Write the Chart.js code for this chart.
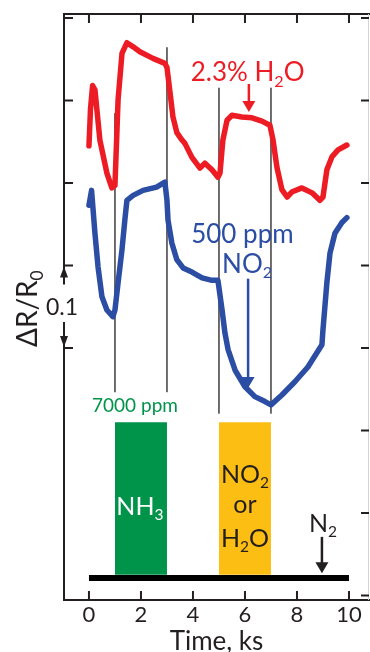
<!DOCTYPE html>
<html>
<head>
<meta charset="utf-8">
<script src="https://cdn.jsdelivr.net/npm/chart.js@4.4.0/dist/chart.umd.min.js"></script>
<style>
  html, body { margin: 0; padding: 0; background: #fff; }
</style>
</head>
<body>
<canvas id="sensorChart" width="370" height="652"></canvas>
<script>
// Axis ticks
const xTicks = [0, 2, 4, 6, 8, 10];
const yTicksLeft = [0.3, 0.4, 0.5, 0.6, 0.7];
const yTicksRight = [0, 0.1, 0.2, 0.3, 0.4, 0.5, 0.6, 0.7];

// Red trace (H2O response), time in ks
const redTime = [0, 0.06, 0.14, 0.23, 0.42, 0.69, 0.88, 1.0, 1.12, 1.27, 1.46, 1.7, 1.96, 2.46, 2.92,
  3.0, 3.12, 3.23, 3.38, 3.58, 3.69, 3.96, 4.27, 4.46, 4.73, 4.96,
  5.04, 5.15, 5.31, 5.5, 5.88, 6.27, 6.65, 6.96, 7.08, 7.23, 7.42, 7.62, 7.8, 8.19, 8.58, 8.88,
  9.0, 9.15, 9.35, 9.58, 9.92];
const redValues = [0.545, 0.590, 0.618, 0.613, 0.552, 0.512, 0.494, 0.497, 0.601, 0.657, 0.670, 0.665, 0.659, 0.651, 0.645,
  0.640, 0.609, 0.580, 0.561, 0.552, 0.548, 0.531, 0.518, 0.524, 0.516, 0.507,
  0.512, 0.552, 0.576, 0.582, 0.580, 0.579, 0.575, 0.570, 0.552, 0.519, 0.492, 0.483, 0.489, 0.494, 0.488, 0.479,
  0.483, 0.516, 0.532, 0.540, 0.546];

// Blue trace (NO2 response)
const blueTime = [0, 0.1, 0.23, 0.35, 0.5, 0.69, 0.92, 1.0, 1.12, 1.27, 1.38, 1.46, 1.7, 2.08, 2.6, 2.92,
  3.0, 3.04, 3.19, 3.38, 3.62, 3.96, 4.35, 4.73, 4.96,
  5.12, 5.23, 5.35, 5.62, 6.0, 6.38, 6.77, 7.0, 7.42, 7.92, 8.42, 8.96,
  9.0, 9.15, 9.27, 9.46, 9.73, 9.92];
const blueValues = [0.473, 0.491, 0.439, 0.398, 0.362, 0.346, 0.338, 0.346, 0.379, 0.419, 0.455, 0.479, 0.485, 0.491, 0.495, 0.501,
  0.479, 0.455, 0.427, 0.407, 0.397, 0.392, 0.385, 0.382, 0.382,
  0.346, 0.318, 0.298, 0.273, 0.253, 0.241, 0.235, 0.231, 0.243, 0.259, 0.277, 0.304,
  0.322, 0.379, 0.415, 0.439, 0.452, 0.458];

// Gas switching markers
const switchTimes = [1, 3, 5, 7];
const switchTop = [0.584, 0.664, 0.615, 0.615];
const switchBottom = [0.247, 0.247, 0.221, 0.221];

// Gas pulses
const nh3Pulse = [1, 3];
const wetPulse = [5, 7];
const pulseTop = 0.210;
const pulseBase = 0.025;
const n2Span = [0, 10];
const n2Level = 0.0212;

const RED = '#ed1c24';
const BLUE = '#2b4da3';
const GREEN = '#00944a';
const YELLOW = '#fdbe14';
const INK = '#231f20';
const FONT = 'Lato, "Open Sans", sans-serif';

Chart.defaults.font.family = FONT;

function pts(xs, ys) {
  return xs.map((x, i) => ({ x: x, y: ys[i] }));
}

// text with "_x" subscripts
function drawRich(ctx, str, cx, baseline, size, color) {
  const parts = [];
  for (let i = 0; i < str.length; i++) {
    if (str[i] === '_') { parts.push([str[i + 1], true]); i++; }
    else parts.push([str[i], false]);
  }
  const subSize = size * 0.62;
  let w = 0;
  parts.forEach(p => {
    ctx.font = (p[1] ? subSize : size) + 'px ' + FONT;
    w += ctx.measureText(p[0]).width;
  });
  let x = cx - w / 2;
  ctx.fillStyle = color;
  ctx.textBaseline = 'alphabetic';
  ctx.textAlign = 'left';
  parts.forEach(p => {
    ctx.font = (p[1] ? subSize : size) + 'px ' + FONT;
    ctx.fillText(p[0], x, baseline + (p[1] ? size * 0.2 : 0));
    x += ctx.measureText(p[0]).width;
  });
}

function arrow(ctx, x, y1, y2, color, lw, headLen, headW) {
  const dir = y2 > y1 ? 1 : -1;
  ctx.strokeStyle = color;
  ctx.fillStyle = color;
  ctx.lineWidth = lw;
  ctx.beginPath();
  ctx.moveTo(x, y1);
  ctx.lineTo(x, y2 - dir * headLen * 0.8);
  ctx.stroke();
  ctx.beginPath();
  ctx.moveTo(x, y2);
  ctx.lineTo(x - headW / 2, y2 - dir * headLen);
  ctx.lineTo(x + headW / 2, y2 - dir * headLen);
  ctx.closePath();
  ctx.fill();
}

// labels placed in data coordinates
const notes = [
  { text: '2.3% H_2O', t: 6.1, v: 0.623, size: 26, color: RED },
  { text: '500 ppm', t: 5.9, v: 0.427, size: 26, color: BLUE },
  { text: 'NO_2', t: 6.08, v: 0.391, size: 26, color: BLUE },
  { text: '7000 ppm', t: 1.77, v: 0.222, size: 19, color: GREEN },
  { text: 'NH_3', t: 1.96, v: 0.0976, size: 25, color: '#fff' },
  { text: 'NO_2', t: 6.0, v: 0.136, size: 25, color: INK },
  { text: 'or', t: 6.0, v: 0.100, size: 25, color: INK },
  { text: 'H_2O', t: 6.0, v: 0.0588, size: 25, color: INK },
  { text: 'N_2', t: 9.0, v: 0.077, size: 25, color: INK }
];
const arrows = [
  { t: 6.15, from: 0.620, to: 0.586, color: RED },
  { t: 6.12, from: 0.384, to: 0.2515, color: BLUE },
  { t: 8.96, from: 0.071, to: 0.027, color: INK }
];

const framePlugin = {
  id: 'frame',
  afterDraw(chart) {
    const ctx = chart.ctx;
    const a = chart.chartArea;
    const xs = chart.scales.x;
    const ys = chart.scales.y;
    ctx.save();
    ctx.strokeStyle = INK;
    ctx.lineWidth = 2;
    ctx.lineCap = 'butt';

    // top and bottom borders
    ctx.beginPath();
    ctx.moveTo(a.left - 1, a.top);
    ctx.lineTo(chart.width, a.top);
    ctx.moveTo(a.left - 1, a.bottom);
    ctx.lineTo(chart.width, a.bottom);
    ctx.stroke();

    // left border, broken by the 0.1 scale bar
    const yHi = ys.getPixelForValue(0.4);
    const yLo = ys.getPixelForValue(0.3);
    ctx.beginPath();
    ctx.moveTo(a.left, a.top);
    ctx.lineTo(a.left, yHi + 19);
    ctx.moveTo(a.left, yLo - 26);
    ctx.lineTo(a.left, a.bottom);
    ctx.stroke();
    arrow(ctx, a.left, yHi + 10, yHi + 1, INK, 2, 11, 8);
    arrow(ctx, a.left, yLo - 10, yLo - 1, INK, 2, 11, 8);

    // right border
    ctx.strokeStyle = '#d4d4d4';
    ctx.lineWidth = 1;
    ctx.beginPath();
    ctx.moveTo(a.right - 0.5, a.top);
    ctx.lineTo(a.right - 0.5, a.bottom);
    ctx.stroke();

    // inward ticks
    ctx.strokeStyle = INK;
    ctx.lineWidth = 2;
    ctx.beginPath();
    xTicks.forEach(v => {
      const px = xs.getPixelForValue(v);
      ctx.moveTo(px, a.top); ctx.lineTo(px, a.top + 9);
      ctx.moveTo(px, a.bottom); ctx.lineTo(px, a.bottom - 9);
    });
    yTicksLeft.forEach(v => {
      const py = ys.getPixelForValue(v);
      ctx.moveTo(a.left, py); ctx.lineTo(a.left + 9, py);
    });
    yTicksRight.forEach(v => {
      const py = ys.getPixelForValue(v);
      ctx.moveTo(a.right, py); ctx.lineTo(a.right - 8, py);
    });
    ctx.stroke();

    // scale bar label and axis title
    drawRich(ctx, '0.1', a.left - 2, (yHi + yLo) / 2 + 8, 23, INK);
    ctx.save();
    ctx.translate(37, (yHi + yLo) / 2 + 2);
    ctx.rotate(-Math.PI / 2);
    drawRich(ctx, '\u0394R/R_0', 0, 0, 28, INK);
    ctx.restore();

    // annotations
    notes.forEach(n => {
      drawRich(ctx, n.text, xs.getPixelForValue(n.t), ys.getPixelForValue(n.v), n.size, n.color);
    });
    arrows.forEach(r => {
      const px = xs.getPixelForValue(r.t);
      arrow(ctx, px, ys.getPixelForValue(r.from), ys.getPixelForValue(r.to), r.color, 2.5, 11, 13);
    });
    ctx.restore();
  }
};

const datasets = [
  { data: pts(redTime, redValues), borderColor: RED, borderWidth: 5.5, order: 1 },
  { data: pts(blueTime, blueValues), borderColor: BLUE, borderWidth: 5.5, order: 1 },
  { data: pts(n2Span, [n2Level, n2Level]), borderColor: '#000', borderWidth: 6, borderCapStyle: 'butt', order: 2 },
  { data: pts(nh3Pulse, [pulseTop, pulseTop]), borderColor: 'rgba(0,0,0,0)', borderWidth: 1,
    backgroundColor: GREEN, fill: { value: pulseBase }, order: 3 },
  { data: pts(wetPulse, [pulseTop, pulseTop]), borderColor: 'rgba(0,0,0,0)', borderWidth: 1,
    backgroundColor: YELLOW, fill: { value: pulseBase }, order: 3 }
];
switchTimes.forEach((t, i) => {
  datasets.push({ data: pts([t, t], [switchTop[i], switchBottom[i]]), borderColor: INK, borderWidth: 1.3, order: 2 });
});

const ctx = document.getElementById('sensorChart').getContext('2d');
const myChart = new Chart(ctx, {
  type: 'line',
  data: { datasets: datasets },
  options: {
    responsive: false,
    animation: false,
    devicePixelRatio: 1,
    layout: { padding: { top: 14, right: 1, left: 0, bottom: 0 } },
    plugins: { legend: { display: false }, tooltip: { enabled: false } },
    elements: { point: { radius: 0 }, line: { tension: 0, borderJoinStyle: 'round', borderCapStyle: 'round' } },
    scales: {
      x: {
        type: 'linear', min: -0.96, max: 10.77,
        afterBuildTicks: s => { s.ticks = xTicks.map(v => ({ value: v })); },
        grid: { display: false, drawTicks: false },
        border: { display: false },
        ticks: { font: { size: 22 }, color: INK, padding: 2, maxRotation: 0, autoSkip: false },
        title: { display: true, text: 'Time, ks', font: { size: 26, lineHeight: 1 }, color: INK,
          padding: { top: 0, bottom: -3 } },
        afterFit: s => { s.height = 52; }
      },
      y: {
        type: 'linear', min: -0.0055, max: 0.7048,
        ticks: { display: false },
        grid: { display: false, drawTicks: false },
        border: { display: false },
        afterFit: s => { s.width = 64; }
      }
    }
  },
  plugins: [framePlugin]
});
</script>
</body>
</html>
